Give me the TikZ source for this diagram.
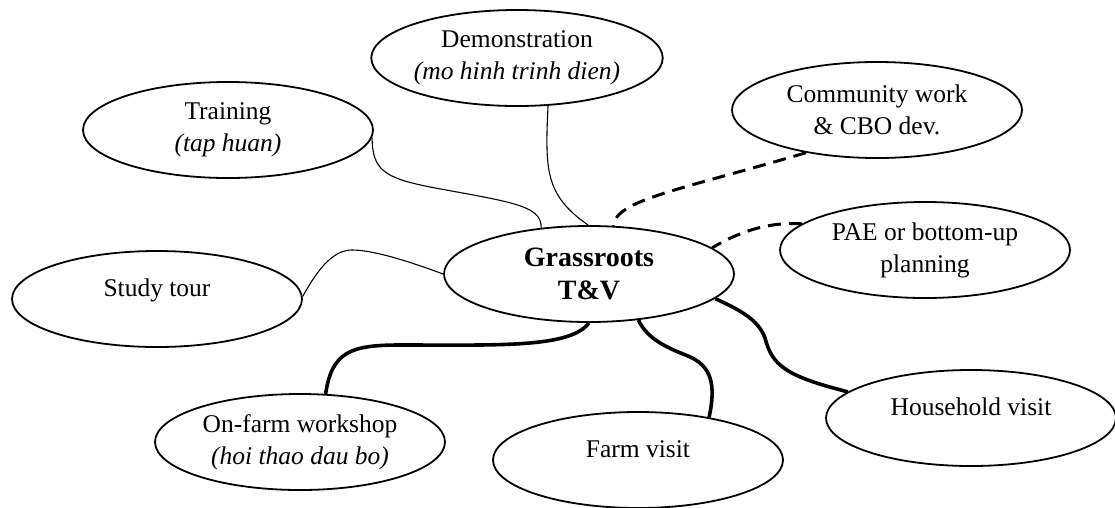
\documentclass[tikz,border=0pt]{standalone}
\usepackage{fontspec}
\setmainfont{Liberation Serif}
\usetikzlibrary{shapes.geometric}
\begin{document}
\begin{tikzpicture}[x=1pt,y=-1pt,
  bubble/.style={draw, ellipse, line width=1.8pt, minimum width=290pt,
    minimum height=96pt, inner sep=0pt, align=center,
    font=\fontsize{25.5}{32}\selectfont},
  hub/.style={bubble, font=\fontsize{28}{33}\selectfont\bfseries},
  thinlink/.style={line width=1.1pt},
  thicklink/.style={line width=3.6pt},
  dashlink/.style={line width=3pt, dash pattern=on 13pt off 8pt}]

% page background and size
\fill[white] (0,0) rectangle (1115,507);
\useasboundingbox (0,0) rectangle (1115,507);

% single-line labels sit a little above the bubble centre
\newcommand{\oneline}[1]{\raisebox{3pt}[0pt][0pt]{#1}}

% activity bubbles
\node[bubble] (demo)   at (517,58)  {Demonstration\\\textit{(mo hinh trinh dien)}};
\node[bubble] (train)  at (228,130) {Training\\\textit{(tap huan)}};
\node[bubble] (comm)   at (877,110) {Community work\\\& CBO dev.};
\node[hub]    (core)   at (589,274) {Grassroots\\T\&V};
\node[bubble] (pae)    at (925,250) {PAE or bottom-up\\planning};
\node[bubble] (tour)   at (157,299) {\oneline{Study tour}};
\node[bubble] (onfarm) at (300,442) {On-farm workshop\\\textit{(hoi thao dau bo)}};
\node[bubble] (farm)   at (638,460) {\oneline{Farm visit}};
\node[bubble] (house)  at (971,418) {\oneline{Household visit}};

% thin links
\draw[thinlink] (train.-3) .. controls (372,170) and (385,178) .. (430,187)
  .. controls (510,202) and (542,205) .. (core.136);
\draw[thinlink] (demo.303) .. controls (545,170) and (545,195) .. (core.91);
\draw[thinlink] (tour.1) .. controls (320,265) and (335,250) .. (352,250)
  .. controls (370,250) and (400,258) .. (core.180);

% dashed links
\draw[dashlink] (comm.211) .. controls (680,190) and (615,200) .. (core.63);
\draw[dashlink] (pae.168) .. controls (775,222) and (745,228) .. (core.12);

% thick links
\draw[thicklink] (onfarm.62) .. controls (332,352) and (350,345) .. (400,345)
  .. controls (500,345) and (570,348) .. (core.270);
\draw[thicklink] (core.317) .. controls (648,340) and (668,348) .. (688,356)
  .. controls (712,366) and (716,385) .. (farm.31);
\draw[thicklink] (core.349) .. controls (735,308) and (758,318) .. (765,338)
  .. controls (772,365) and (785,376) .. (house.168);
\end{tikzpicture}
\end{document}
